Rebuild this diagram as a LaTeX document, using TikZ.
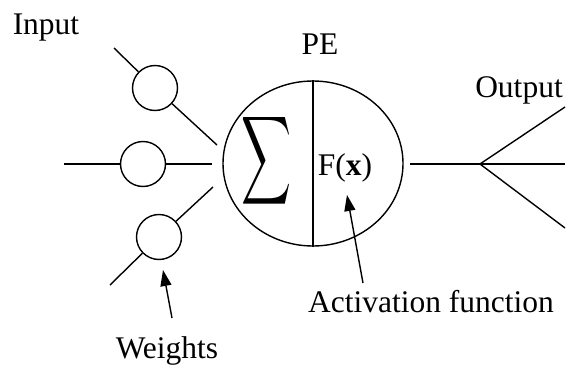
\documentclass[tikz,border=0pt]{standalone}
\usepackage{fontspec}
\usepackage{graphicx}
\setmainfont{Liberation Serif}
\usetikzlibrary{arrows.meta,shapes.geometric}
\begin{document}
\begin{tikzpicture}[x=1pt,y=-1pt, line width=1.4pt,
  lbl/.style={font=\fontsize{31.5}{36}\selectfont, inner sep=0pt, anchor=base},
  wt/.style={circle, draw, minimum size=45pt, inner sep=0pt},
  arr/.style={-{Triangle[length=16pt,width=11pt]}}]
\useasboundingbox (0,0) rectangle (570,372);
% labels
\node[lbl] (in) at (46,34) {Input};
\node[lbl] (pelab) at (320,54) {PE};
\node[lbl] (out) at (519,97) {Output};
\node[lbl] (wl) at (167,358) {Weights};
\node[lbl] (al) at (431,312) {Activation function};
% weights
\node[wt] (w1) at (155,88) {};
\node[wt] (w2) at (143,164) {};
\node[wt] (w3) at (159,237) {};
\coordinate (i1) at (114,48);
\coordinate (e1) at (217,145);
\coordinate (i2) at (64,164);
\coordinate (e2) at (212,164);
\coordinate (i3) at (110,285);
\coordinate (e3) at (213,187);
\draw (i1) -- (w1) -- (e1);
\draw (i2) -- (w2) -- (e2);
\draw (i3) -- (w3) -- (e3);
% processing element
\node[draw, ellipse, minimum width=180pt, minimum height=165pt, inner sep=0pt] (pe) at (313,163.5) {};
\draw (pe.north) -- (pe.south);
\node[inner sep=0pt] (sig) at (267,160.5) {\resizebox{50pt}{65pt}{$\displaystyle\sum$}};
\node[lbl] (fx) at (345,175) {F(\textbf{x})};
% output
\coordinate (o0) at (410,164);
\coordinate (ob) at (480,164);
\coordinate (o1) at (565,107);
\coordinate (o2) at (565,164);
\coordinate (o3) at (565,228);
\draw (o0) -- (ob) -- (o2);
\draw (ob) -- (o1);
\draw (ob) -- (o3);
% arrows
\coordinate (wa0) at (172,318);
\coordinate (wa1) at (163,270);
\draw[arr] (wa0) -- (wa1);
\coordinate (aa0) at (363,283);
\coordinate (aa1) at (347,195);
\draw[arr] (aa0) -- (aa1);
\end{tikzpicture}
\end{document}
